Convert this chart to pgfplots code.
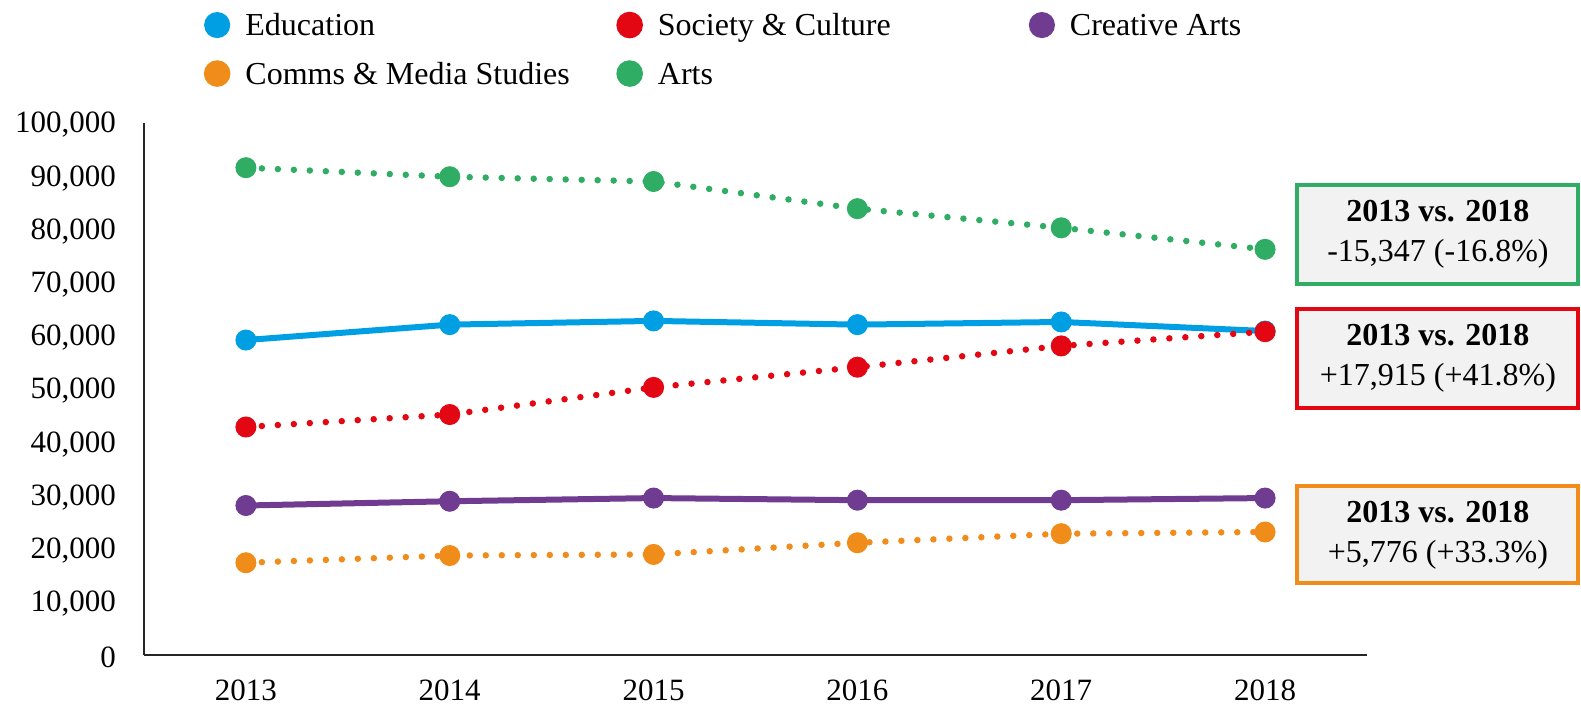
\documentclass[border=0pt]{standalone}
\usepackage{fontspec}
\setmainfont{Liberation Serif}
\usepackage{pgfplots}
\pgfplotsset{compat=1.18}
\definecolor{cEdu}{RGB}{0,159,227}
\definecolor{cSoc}{RGB}{227,6,19}
\definecolor{cCre}{RGB}{112,60,145}
\definecolor{cCom}{RGB}{240,140,25}
\definecolor{cArt}{RGB}{48,173,100}
\definecolor{boxgray}{RGB}{242,242,242}
\newcommand{\legsp}{\hspace{8pt}}
\begin{document}
\begin{tikzpicture}[font=\fontsize{31}{37}\selectfont]
\begin{axis}[
  width=1223pt, height=532pt, scale only axis,
  xmin=2012.5, xmax=2018.5, ymin=0, ymax=100000,
  clip=false,
  axis lines*=left,
  axis line style={line width=2pt, black!85},
  major tick length=0pt,
  scaled y ticks=false,
  xtick={2013,2014,2015,2016,2017,2018},
  xticklabels={2013,2014,2015,2016,2017,2018},
  ytick={0,10000,20000,30000,40000,50000,60000,70000,80000,90000,100000},
  yticklabels={0,{10,000},{20,000},{30,000},{40,000},{50,000},{60,000},{70,000},{80,000},{90,000},{100,000}},
  x tick label style={inner sep=0pt, anchor=north, yshift=-25pt},
  y tick label style={inner sep=0pt, anchor=east, xshift=-28pt, yshift=-2pt},
  legend columns=3,
  legend cell align=left,
  legend image code/.code={\fill[solid] (0pt,0pt) circle (10pt);},
  legend style={draw=none, fill=none, inner sep=0pt, outer sep=0pt,
    at={(axis description cs:0.0490,1.209)}, anchor=north west,
    row sep=22pt,
    nodes={text width=371pt, align=left, text height=21pt, text depth=0pt, inner sep=0pt, font=\fontsize{32}{38}\selectfont},
    /tikz/every odd column/.append style={column sep=15pt}},
]
\addplot[cEdu, line width=6pt, mark=*, mark size=10pt, mark options={solid, line width=1pt}]
  coordinates {(2013,59200) (2014,62100) (2015,62800) (2016,62100) (2017,62600) (2018,60900)};
\addlegendentry{Education}
\addplot[cSoc, line width=6.5pt, line cap=round, dash pattern=on 0pt off 16pt, mark=*, mark size=10pt, mark options={solid, line width=1pt}]
  coordinates {(2013,42859) (2014,45200) (2015,50300) (2016,54100) (2017,58100) (2018,60774)};
\addlegendentry{Society\legsp\&\legsp Culture}
\addplot[cCre, line width=6pt, mark=*, mark size=10pt, mark options={solid, line width=1pt}]
  coordinates {(2013,28100) (2014,28900) (2015,29500) (2016,29100) (2017,29100) (2018,29500)};
\addlegendentry{Creative\legsp Arts}
\addplot[cCom, line width=6.5pt, line cap=round, dash pattern=on 0pt off 16pt, mark=*, mark size=10pt, mark options={solid, line width=1pt}]
  coordinates {(2013,17345) (2014,18700) (2015,18900) (2016,21100) (2017,22800) (2018,23121)};
\addlegendentry{Comms\legsp\&\legsp Media\legsp Studies}
\addplot[cArt, line width=6.5pt, line cap=round, dash pattern=on 0pt off 16pt, mark=*, mark size=10pt, mark options={solid, line width=1pt}]
  coordinates {(2013,91600) (2014,89900) (2015,89000) (2016,83900) (2017,80300) (2018,76253)};
\addlegendentry{Arts}
\node[draw=cArt, line width=4pt, fill=boxgray, minimum width=281pt, minimum height=99pt, align=center, inner sep=0pt, font=\fontsize{32}{40}\selectfont]
  at (axis cs:2018.848,79100) {\textbf{2013 vs. 2018}\\-15,347 (-16.8\%)};
\node[draw=cSoc, line width=4pt, fill=boxgray, minimum width=281pt, minimum height=99pt, align=center, inner sep=0pt, font=\fontsize{32}{40}\selectfont]
  at (axis cs:2018.848,55700) {\textbf{2013 vs. 2018}\\+17,915 (+41.8\%)};
\node[draw=cCom, line width=4pt, fill=boxgray, minimum width=281pt, minimum height=97pt, align=center, inner sep=0pt, font=\fontsize{32}{40}\selectfont]
  at (axis cs:2018.848,22600) {\textbf{2013 vs. 2018}\\+5,776 (+33.3\%)};
\end{axis}
\pgfresetboundingbox
\path (-144pt,-50pt) rectangle (1437pt,655pt);
\end{tikzpicture}
\end{document}
